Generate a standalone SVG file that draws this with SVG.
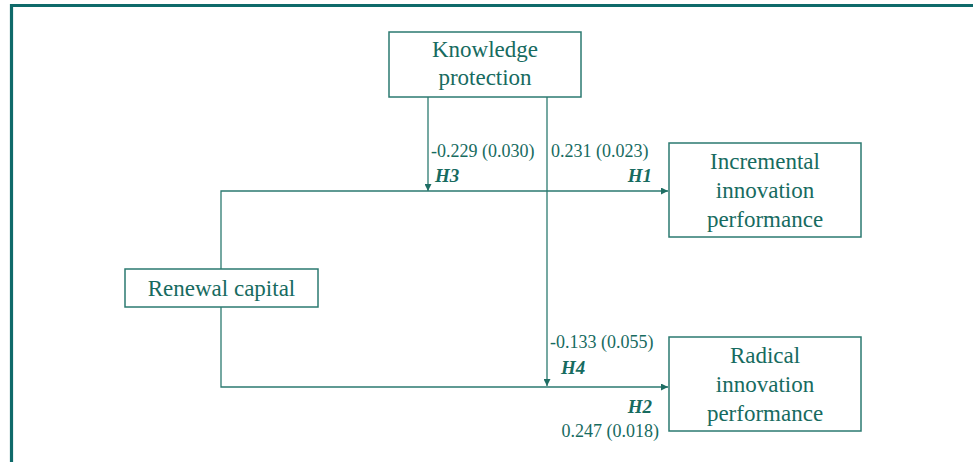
<svg xmlns="http://www.w3.org/2000/svg" width="973" height="462" viewBox="0 0 973 462">
<style>
.box{fill:#fff;stroke:#2b7a70;stroke-width:1.5}
.t{font-size:23px;fill:#176b5f;text-anchor:middle}
.c{font-size:18px;fill:#176b5f}
.h{font-size:19px;font-weight:bold;font-style:italic;fill:#176b5f}
.ln{fill:none;stroke:#2b7a70;stroke-width:1.3}
</style>
<defs>
<marker id="a" viewBox="0 0 10 10" refX="10" refY="5" markerWidth="7" markerHeight="7" markerUnits="userSpaceOnUse" orient="auto"><path d="M0,0L10,5L0,10z" fill="#1f6e64"/></marker>
</defs>
<rect width="973" height="462" fill="#fff"/>
<path d="M11.5,462V5.5H973" fill="none" stroke="#0f6a6a" stroke-width="3.2"/>
<g font-family="'Liberation Serif', 'Times New Roman', 'DejaVu Serif', serif">
<g id="connectors">
<path class="ln" d="M221,269V191H668" marker-end="url(#a)"/>
<path class="ln" d="M221,307V387H668" marker-end="url(#a)"/>
<path class="ln" d="M428,97V191" marker-end="url(#a)"/>
<path class="ln" d="M547,97V386" marker-end="url(#a)"/>
<text class="c" x="431" y="157">-0.229 (0.030)</text>
<text class="c" x="551" y="157">0.231 (0.023)</text>
<text class="h" x="435" y="182">H3</text>
<text class="h" x="652" y="182" text-anchor="end">H1</text>
<text class="c" x="550" y="348">-0.133 (0.055)</text>
<text class="h" x="561" y="374">H4</text>
<text class="h" x="652" y="413" text-anchor="end">H2</text>
<text class="c" x="659" y="437" text-anchor="end">0.247 (0.018)</text>
</g>
<g id="knowledge-protection">
<rect class="box" x="389" y="32" width="192" height="65"/>
<text class="t" x="485" y="57">Knowledge</text>
<text class="t" x="485" y="85">protection</text>
</g>
<g id="renewal-capital">
<rect class="box" x="125" y="269" width="193" height="38"/>
<text class="t" x="221.5" y="296">Renewal capital</text>
</g>
<g id="incremental">
<rect class="box" x="669" y="143" width="192" height="94"/>
<text class="t" x="765" y="169">Incremental</text>
<text class="t" x="765" y="198">innovation</text>
<text class="t" x="765" y="227">performance</text>
</g>
<g id="radical">
<rect class="box" x="669" y="337" width="192" height="94"/>
<text class="t" x="765" y="363">Radical</text>
<text class="t" x="765" y="392">innovation</text>
<text class="t" x="765" y="421">performance</text>
</g>
</g>
</svg>
